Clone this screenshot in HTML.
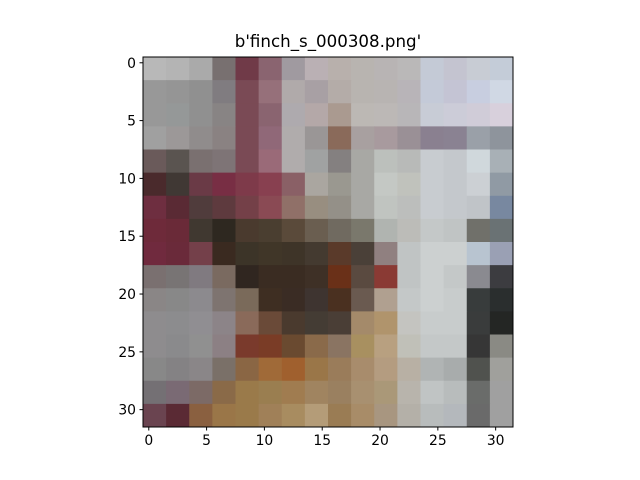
<!DOCTYPE html>
<html><head><meta charset="utf-8"><style>
html,body{margin:0;padding:0;background:#fff;}
svg{display:block;font-family:"DejaVu Sans","Liberation Sans",sans-serif;}
</style></head><body>
<svg id="chart" width="640" height="480" viewBox="0 0 640 480" xmlns="http://www.w3.org/2000/svg">
<text x="328" y="47" font-size="16.67" text-anchor="middle" fill="#000">b'finch_s_000308.png'</text>
<g id="cells"></g>
<rect x="143" y="57" width="370" height="370" fill="none" stroke="#000" stroke-width="1"/>
<g id="xticks"></g>
<g id="yticks"></g>
</svg>
<script>
const blockColors = [
["#b8b8b8","#b4b4b4","#aaaaaa","#787070","#703a48","#8a6470","#a09aa0","#bab0b4","#b8b0ac","#b8b4b0","#b8b4b4","#bab8b8","#c4cad6","#c4c4d0","#c8ccd4","#c4ccd8"],
["#989898","#959595","#909090","#807c80","#7a4a55","#96707a","#b0aaaa","#a8a0a4","#b4aca8","#b8b4b0","#b8b4b2","#b8b4b8","#c4cad8","#c4c4d4","#c8cee0","#d0d8e4"],
["#989898","#959898","#909090","#888484","#7a4a55","#8a6470","#aeaaae","#b4a8a8","#aa9a90","#bcb8b4","#bcb8b6","#b8b6b8","#c8ccd6","#ccccd8","#d0ccd8","#d8d0dc"],
["#a0a0a0","#9c9898","#908c8c","#8a8282","#7a4a55","#906878","#b0acac","#9a9696","#8a6a5a","#a8a0a0","#a89a9e","#9a9096","#8a8090","#8a8292","#9aa0a8","#8e949c"],
["#6a5a5a","#5a5450","#7a7070","#7e7476","#7a4a55","#9a6a78","#b0acac","#a0a2a2","#848080","#a8a8a4","#bcc0bc","#b8bab8","#c8ccd0","#c4c8cc","#d0d8dc","#a8b0b6"],
["#4a2a2c","#403834","#6a3a46","#782e44","#7e3a4a","#884050","#8a6066","#aaa6a0","#9a9890","#a8a8a4","#c4c8c4","#c0c2bc","#c8ccd0","#c4c8cc","#ccd0d4","#909aa4"],
["#6e2e40","#5a2a34","#503c3c","#5e3a3e","#744048","#8a4a54","#907068","#988e80","#949088","#a8a8a4","#c0c4c0","#bcbebc","#c8ccd0","#c4c8cc","#c0c4c8","#7888a0"],
["#6e2a3a","#6a2a38","#403830","#2e2820","#4a3a2e","#4a3e30","#5a4a3a","#6a5e50","#706a60","#7a786c","#b0b4b0","#bcbcb8","#c4c8c8","#c0c4c4","#70706a","#6a7274"],
["#702a3e","#6a2a3a","#74404a","#3a2a20","#3c3428","#403628","#3e3428","#443a30","#5a3a2a","#4a4038","#908080","#c0c4c4","#ccd0d0","#ccd0d0","#b8c4d0","#9aa0b4"],
["#7a7070","#787474","#807a80","#7a6a60","#302620","#3a2c22","#3a2c22","#3e3026","#6a3018","#5a4a40","#8a3a34","#c0c4c4","#ccd0d0","#c4c8c8","#8a8a90","#3c3c40"],
["#8a8686","#888888","#8c8a8e","#7e7470","#7a6a5a","#3e2e22","#3a2c24","#3e3430","#4a3020","#6a5a50","#b0a090","#c4c8c8","#ccd0d0","#c8cccc","#383c3c","#2a2e2e"],
["#8e8c8e","#8c8c8e","#908e92","#8c8488","#8a6a5a","#6a4a38","#4a3a2e","#443c34","#4a3e36","#a48a6a","#b0946c","#c4c4c0","#c8cccc","#c8cccc","#3a3c3c","#242624"],
["#8e8c8e","#8a8a8c","#909090","#8c8084","#7a3a2c","#7a3c26","#6a4a30","#8a6a4a","#8a7462","#a89060","#b8a080","#c0c0b8","#c4c8c8","#c4c8c8","#363636","#8a8a84"],
["#888888","#848284","#8a8688","#7a7068","#8a6644","#a06a38","#a0602e","#9a7648","#9a7c5a","#a88c6c","#b49c80","#b8b0a4","#b0b4b4","#a8acac","#50524e","#a0a09c"],
["#747074","#7a6a74","#7c6a66","#8a6a48","#9a7a4a","#9a7e50","#a07c50","#a08460","#9a8060","#a89070","#aa9878","#b8b4ac","#c0c4c4","#b8bcbc","#6a6c6a","#a0a0a0"],
["#6a4450","#5a2a34","#8a6040","#9a7648","#9a7a4a","#a08058","#a88c60","#b49c78","#9a7c54","#a88c68","#a89680","#b4b0a8","#b8bcbc","#b4b8bc","#6a6a6a","#a0a0a0"]
];
const xTickValues = [0,5,10,15,20,25,30];
const yTickValues = [0,5,10,15,20,25,30];
const imgPixels = 32;

const X0 = 143, Y0 = 57, SIZE = 370;
const scale = SIZE / imgPixels;
function xPos(v){ return X0 + (v + 0.5) * scale; }
function yPos(v){ return Y0 + (v + 0.5) * scale; }
const NS = "http://www.w3.org/2000/svg";
const cells = document.getElementById('cells');
const bs = imgPixels / blockColors.length;
blockColors.forEach((row, r) => {
  row.forEach((c, k) => {
    const el = document.createElementNS(NS, 'rect');
    
    
    el.setAttribute('x', X0 + k * bs * scale);
    el.setAttribute('y', Y0 + r * bs * scale);
    el.setAttribute('width', bs * scale + 0.5);
    el.setAttribute('height', bs * scale + 0.5);
    el.setAttribute('fill', c);
    cells.appendChild(el);
  });
});
const xg = document.getElementById('xticks');
xTickValues.forEach(v => {
  const x = xPos(v);
  const ln = document.createElementNS(NS, 'line');
  
  
  ln.setAttribute('x1', x); ln.setAttribute('x2', x);
  ln.setAttribute('y1', Y0 + SIZE); ln.setAttribute('y2', Y0 + SIZE + 3.5);
  ln.setAttribute('stroke', '#000');
  xg.appendChild(ln);
  const t = document.createElementNS(NS, 'text');
  
  
  t.setAttribute('x', x); t.setAttribute('y', Y0 + SIZE + 18);
  t.setAttribute('font-size', '13.9');
  t.setAttribute('text-anchor', 'middle');
  t.textContent = v;
  xg.appendChild(t);
});
const yg = document.getElementById('yticks');
yTickValues.forEach(v => {
  const y = yPos(v);
  const ln = document.createElementNS(NS, 'line');
  
  
  ln.setAttribute('x1', X0 - 3.5); ln.setAttribute('x2', X0);
  ln.setAttribute('y1', y); ln.setAttribute('y2', y);
  ln.setAttribute('stroke', '#000');
  yg.appendChild(ln);
  const t = document.createElementNS(NS, 'text');
  
  
  t.setAttribute('x', X0 - 7); t.setAttribute('y', y + 5);
  t.setAttribute('font-size', '13.9');
  t.setAttribute('text-anchor', 'end');
  t.textContent = v;
  yg.appendChild(t);
});
</script>
</body></html>
